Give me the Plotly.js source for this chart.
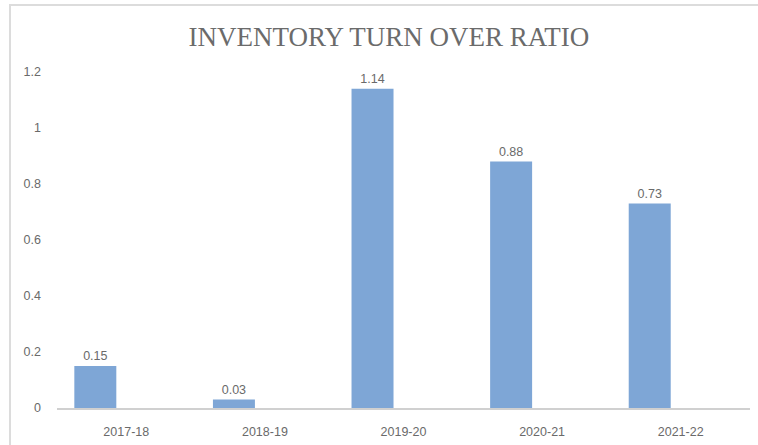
<!DOCTYPE html>
<html>
<head>
<meta charset="utf-8">
<script src="https://cdn.plot.ly/plotly-3.0.1.min.js"></script>
<style>
html,body{margin:0;padding:0;background:#fff;}
#frame{position:absolute;left:0;top:0;width:758px;height:445px;}
#edge{position:absolute;left:9px;top:4px;width:760px;height:450px;border-left:2px solid #dcdcdc;border-top:2px solid #dcdcdc;pointer-events:none;}
#chart{position:absolute;left:0;top:0;width:758px;height:445px;}
</style>
</head>
<body>
<div id="frame"><div id="chart"></div><div id="edge"></div></div>
<script>
const categories = ["2017-18", "2018-19", "2019-20", "2020-21", "2021-22"];
const ratios = [0.15, 0.03, 1.14, 0.88, 0.73];
const ratioLabels = ["0.15", "0.03", "1.14", "0.88", "0.73"];
const yTicks = [0, 0.2, 0.4, 0.6, 0.8, 1, 1.2];
const yTickLabels = ["0", "0.2", "0.4", "0.6", "0.8", "1", "1.2"];
const chartTitle = "INVENTORY TURN OVER RATIO";

const labelFont = {family: "Liberation Sans, Arial, sans-serif", size: 12.5, color: "#6a6a6a"};

Plotly.newPlot("chart", [{
  type: "bar",
  x: categories,
  y: ratios,
  text: ratioLabels,
  texttemplate: "%{text}",
  textposition: "outside",
  cliponaxis: false,
  textfont: labelFont,
  width: 0.303,
  offset: -0.375,
  marker: {color: "#7ea6d6", line: {width: 0}},
  hoverinfo: "skip"
}], {
  width: 758,
  height: 445,
  margin: {l: 57, r: 8, t: 72, b: 37},
  paper_bgcolor: "rgba(0,0,0,0)",
  plot_bgcolor: "rgba(0,0,0,0)",
  showlegend: false,
  title: {
    text: chartTitle,
    x: 0.513, xref: "container", xanchor: "center",
    y: 0.918, yref: "container", yanchor: "middle",
    font: {family: "Liberation Serif, serif", size: 27, color: "#6b6b6b"}
  },
  xaxis: {
    type: "category",
    range: [-0.5, 4.5],
    showgrid: false,
    zeroline: false,
    showline: true,
    linecolor: "#d0d0d0",
    linewidth: 2,
    ticks: "",
    ticklabelstandoff: 11,
    tickfont: labelFont
  },
  yaxis: {
    range: [0, 1.2],
    tickvals: yTicks,
    ticktext: yTickLabels,
    showgrid: false,
    zeroline: false,
    showline: false,
    ticks: "",
    ticklabelstandoff: 15,
    tickfont: labelFont
  }
}, {staticPlot: true});
</script>
</body>
</html>
